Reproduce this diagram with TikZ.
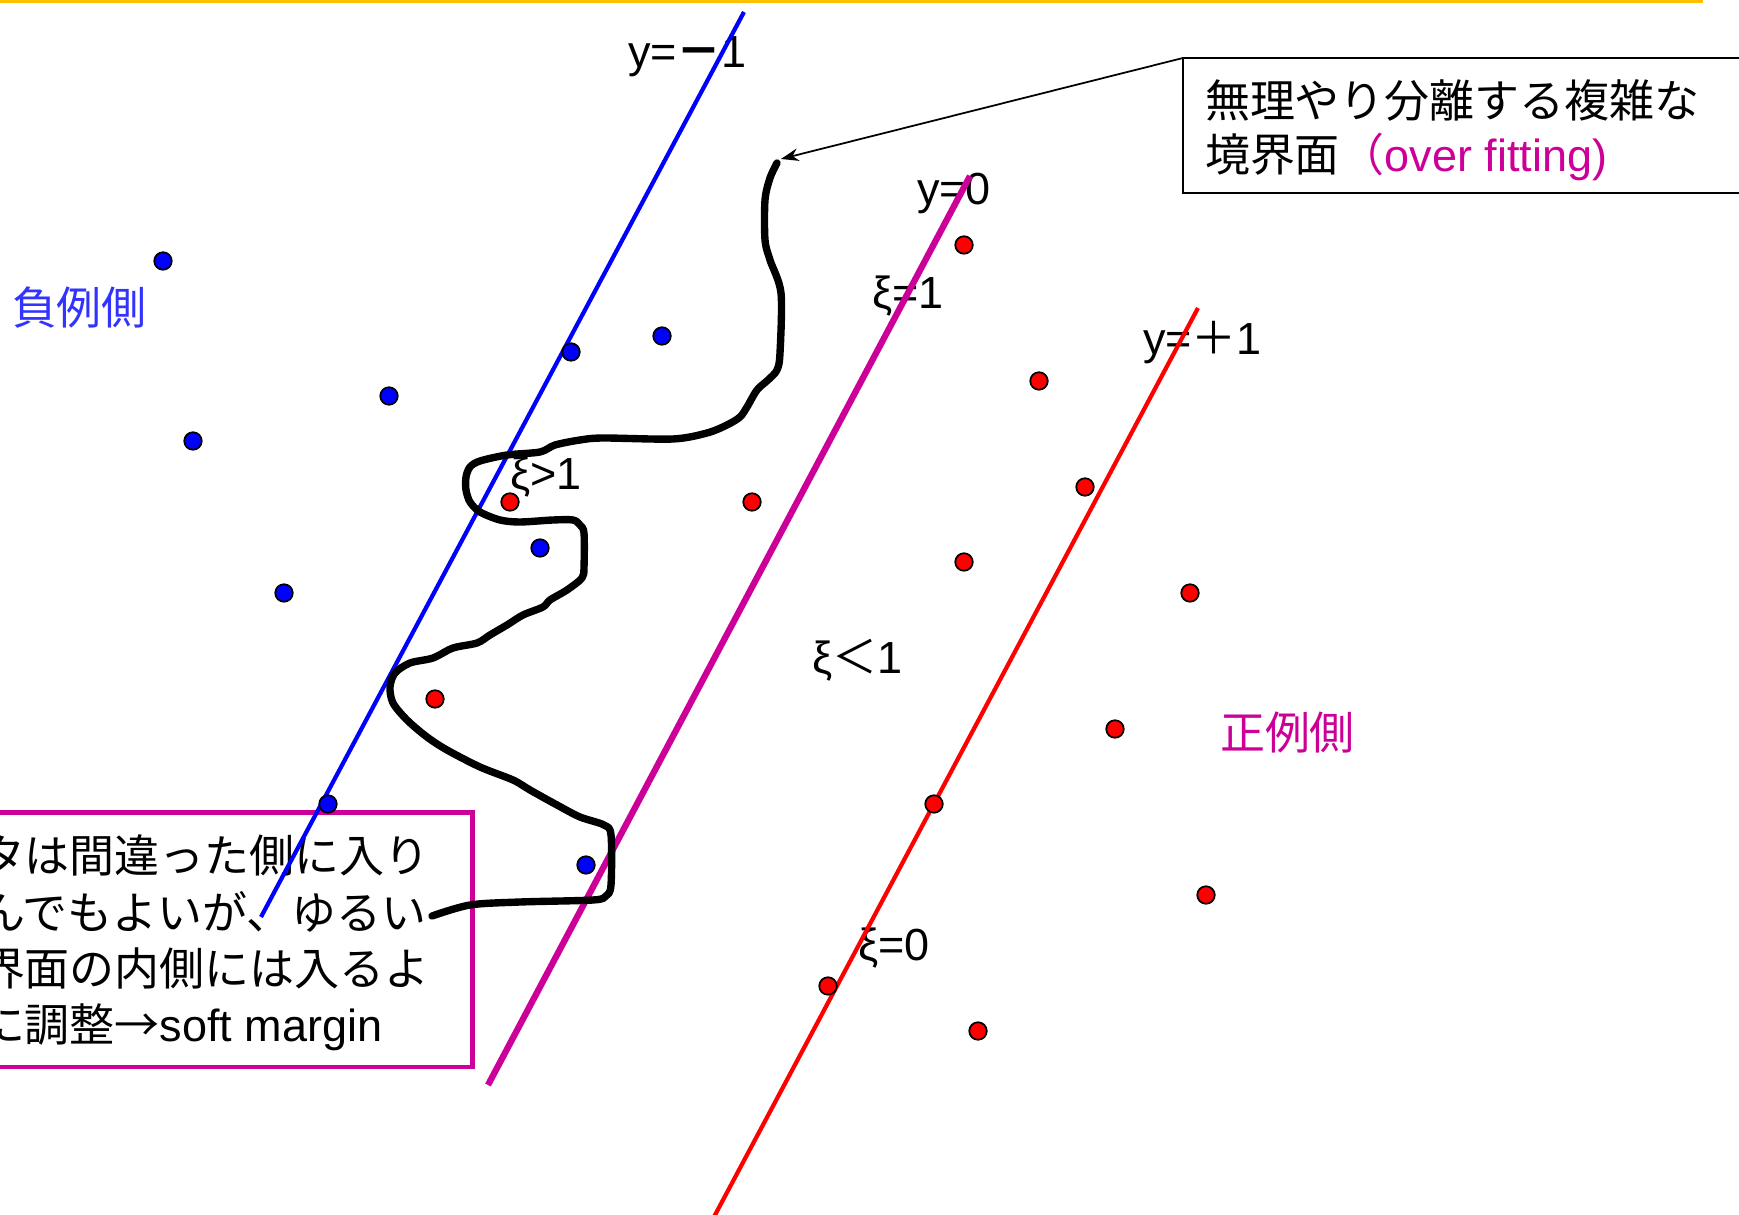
\documentclass[tikz,border=0pt]{standalone}
\usepackage{fontspec}
\setmainfont{Liberation Sans}
\newfontfamily\jp{Noto Sans CJK JP}
\usetikzlibrary{arrows.meta}
\definecolor{topyellow}{HTML}{FFC000}
\definecolor{mag}{HTML}{CC0099}
\definecolor{negblue}{HTML}{3333FF}
\begin{document}
\begin{tikzpicture}[x=0.1mm, y=-0.1mm,
  lbl/.style={font=\fontsize{12.8}{15}\selectfont, inner sep=0, outer sep=0, anchor=base west},
  dotbase/.style={circle, draw=black, line width=0.5pt, minimum size=1.75mm, inner sep=0},
  negdot/.style={dotbase, fill=blue},
  posdot/.style={dotbase, fill=red},
  wiggle/.style={line width=2.1pt, line cap=round, line join=round},
]
\useasboundingbox (0,0) rectangle (1739,1215);
\clip (0,0) rectangle (1739,1215);
\fill[white] (0,0) rectangle (1739,1215);

% yellow rule at the top
\draw[topyellow, line width=1pt] (0,1.75) -- (1703,1.75);

% soft margin box
\node (softbox) [draw=mag, line width=1.3pt, fill=white, outer sep=0, inner sep=0, anchor=north east, minimum width=55mm, minimum height=25.45mm] at (472.5,812.5) {};
\node (s1) [lbl] at (-20,872) {\jp タは間違った側に入り};
\node (s2) [lbl] at (-20,929) {\jp んでもよいが、ゆるい};
\node (s3) [lbl] at (-20,985) {\jp 界面の内側には入るよ};
\node (s4) [lbl] at (-20,1041) {{\jp に調整→}soft margin};

% over fitting box
\node (ofbox) [draw=black, line width=0.45pt, outer sep=0, inner sep=0, anchor=north west, minimum width=70mm, minimum height=13.5mm] at (1183,58) {};
\node (o1) [lbl] at (1205,118) {\jp 無理やり分離する複雑な};
\node (o2) [lbl] at (1205,172) {{\jp 境界面}\textcolor{mag}{{\jp （}over fitting)}};

% side labels
\node (neg) [lbl, text=negblue] at (12,325) {\jp 負例側};
\node (pos) [lbl, text=mag] at (1220,750) {\jp 正例側};

% line labels
\node (lm1) [lbl] at (628,68) {y={\jp\bfseries －}1};
\node (l0) [lbl] at (917,205) {y=0};
\node (lp1) [lbl] at (1143,355) {y={\jp ＋}1};
\node (x1) [lbl] at (872,309) {ξ=1};
\node (xg) [lbl] at (510,490) {ξ>1};
\node (xl) [lbl] at (812,674) {ξ{\jp ＜}1};
\node (x0) [lbl] at (858,960) {ξ=0};

% margin lines
\draw[blue, line width=1.2pt] (744,12) -- (261,917);
\draw[mag, line width=1.8pt] (970,176) -- (488,1085);
\draw[red, line width=1.2pt] (1198,308) -- (707,1230);

% over fitting boundary
\draw[wiggle] plot[smooth, tension=0.5] coordinates {
 (432,916) (470,905) (520,902) (593,900) (606,896) (611,885) (611,835) (604,825)
 (580,817) (557,805) (530,790) (513,780) (480,767) (447,750) (427,737) (407,720)
 (393,703) (390,687) (395,673) (410,663) (433,658) (453,648) (477,643) (490,635)
 (507,625) (523,615) (543,607) (550,600) (567,590) (582,578) (584,567) (584,533)
 (580,525) (573,520) (553,520) (520,522) (500,520) (480,512) (470,502) (466,490)
 (466,477) (470,467) (480,461) (507,455) (540,452) (555,445) (580,440) (603,438)
 (673,439) (707,433) (727,425) (740,417) (747,407) (757,390) (768,380) (777,370)
 (780,353) (781,293) (770,260) (765,240) (765,200) (770,178) (777,163)};
\coordinate (ctop) at (781,159);
\draw[line width=0.5pt, -{Stealth[length=5pt, width=3.6pt]}] (ofbox.north west) -- (ctop);

% negative examples
\node (n1) [negdot] at (163,261) {};
\node (n2) [negdot] at (571,352) {};
\node (n3) [negdot] at (662,336) {};
\node (n4) [negdot] at (389,396) {};
\node (n5) [negdot] at (193,441) {};
\node (n6) [negdot] at (540,548) {};
\node (n7) [negdot] at (284,593) {};
\node (n8) [negdot] at (328,804) {};
\node (n9) [negdot] at (586,865) {};

% positive examples
\node (p1) [posdot] at (964,245) {};
\node (p2) [posdot] at (1039,381) {};
\node (p3) [posdot] at (1085,487) {};
\node (p4) [posdot] at (752,502) {};
\node (p5) [posdot] at (510,502) {};
\node (p6) [posdot] at (964,562) {};
\node (p7) [posdot] at (1190,593) {};
\node (p8) [posdot] at (435,699) {};
\node (p9) [posdot] at (1115,729) {};
\node (p10) [posdot] at (934,804) {};
\node (p11) [posdot] at (1206,895) {};
\node (p12) [posdot] at (828,986) {};
\node (p13) [posdot] at (978,1031) {};
\end{tikzpicture}
\end{document}
